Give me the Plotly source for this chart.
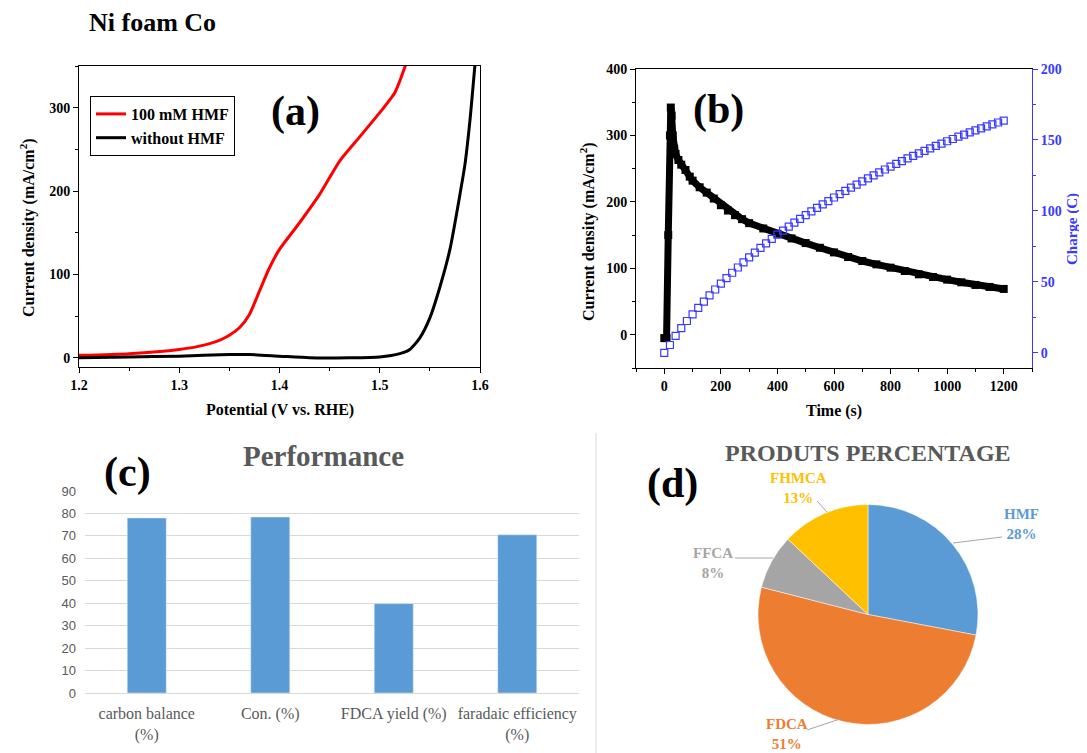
import plotly.graph_objects as go

W, H = 1087, 753
OFF = 8  # page body margin of the browser
FW, FH = W - OFF, H - OFF
SERIF = "Liberation Serif"
SANS = "Liberation Sans"

# ---------------- data ----------------
# (a) LSV curves
pot_hmf = [1.20, 1.25, 1.30, 1.32, 1.34, 1.35, 1.36, 1.37, 1.38, 1.39, 1.40, 1.42, 1.44, 1.46, 1.48, 1.50, 1.515, 1.52, 1.526]
j_hmf = [3, 5, 10, 14, 21, 27, 36, 52, 80, 108, 130, 162, 196, 236, 265, 294, 318, 332, 352]
pot_blank = [1.20, 1.25, 1.30, 1.35, 1.37, 1.40, 1.43, 1.47, 1.50, 1.52, 1.53, 1.54, 1.55, 1.56, 1.57, 1.58, 1.585, 1.59, 1.595]
j_blank = [0, 1, 2, 4, 4, 2, 0, 0, 1, 5, 10, 24, 48, 85, 130, 196, 232, 285, 352]

# (b) chronoamperometry
t_cur = [0, 8, 14, 20, 23, 26, 30, 35, 40, 50, 60, 75, 90, 100, 125, 150, 175, 200, 225, 250, 275, 300,
         350, 400, 450, 500, 550, 600, 650, 700, 750, 800, 850, 900, 950, 1000, 1050, 1100, 1150, 1200]
cur = [-5, -5, 150, 300, 342, 330, 300, 280, 272, 263, 256, 248, 238, 232, 222, 214, 205, 195, 187, 180, 174, 168,
       160, 152, 145, 138, 131, 124, 117, 111, 106, 101, 96, 91, 87, 83, 79, 75, 72, 69]
t_charge = [0, 20, 40, 60, 80, 100, 120, 140, 160, 180, 200, 220, 240, 260, 280, 300, 320, 340, 360, 380,
            400, 420, 440, 460, 480, 500, 520, 540, 560, 580, 600, 620, 640, 660, 680, 700, 720, 740, 760, 780,
            800, 820, 840, 860, 880, 900, 920, 940, 960, 980, 1000, 1020, 1040, 1060, 1080, 1100, 1120, 1140,
            1160, 1180, 1200]
charge = [0, 5.6, 12.0, 17.5, 22.5, 27.2, 31.8, 36.2, 40.5, 44.7, 48.8, 52.7, 56.5, 60.2, 63.8, 67.3, 70.7,
          74.0, 77.2, 80.3, 83.3, 86.2, 89.0, 91.8, 94.5, 97.1, 99.7, 102.2, 104.6, 107.0, 109.5, 111.8, 114.1,
          116.4, 118.6, 120.8, 123.0, 125.1, 127.2, 129.2, 131.3, 133.2, 135.1, 137.0, 138.8, 140.6, 142.4,
          144.1, 145.8, 147.5, 149.1, 150.7, 152.3, 153.8, 155.3, 156.8, 158.2, 159.6, 161.0, 162.3, 163.6]

# (c) performance
perf_cats = ["carbon balance<br>(%)", "Con. (%)", "FDCA yield (%)", "faradaic efficiency<br>(%)"]
perf_vals = [78.0, 78.4, 39.8, 70.5]

# (d) product percentages
prod_labels = ["HMF", "FDCA", "FFCA", "FHMCA"]
prod_vals = [28, 51, 8, 13]
prod_colors = ["#5B9BD5", "#ED7D31", "#A5A5A5", "#FFC000"]

# ---------------- helpers (reference pixel -> paper fraction) ----------------
def px(x):
    return (x - OFF) / FW

def py(y):
    return 1 - (y - OFF) / FH

BLUE = "#3a3aff"

fig = go.Figure()

# (a)
fig.add_trace(go.Scatter(x=pot_hmf, y=j_hmf, mode="lines", name="100 mM HMF",
                         line=dict(color="#ff0000", width=3, shape="spline", smoothing=0.6),
                         xaxis="x", yaxis="y"))
fig.add_trace(go.Scatter(x=pot_blank, y=j_blank, mode="lines", name="without HMF",
                         line=dict(color="#000000", width=3, shape="spline", smoothing=0.6),
                         xaxis="x", yaxis="y"))

# (b)
fig.add_trace(go.Scatter(x=t_cur, y=cur, mode="lines+markers", showlegend=False,
                         line=dict(color="black", width=7),
                         marker=dict(symbol="square", size=8, color="black"),
                         xaxis="x2", yaxis="y2"))
fig.add_trace(go.Scatter(x=t_charge, y=charge, mode="markers", showlegend=False,
                         marker=dict(symbol="square-open", size=7, color=BLUE, line=dict(width=1.2)),
                         xaxis="x2", yaxis="y3"))

# (c)
fig.add_trace(go.Bar(x=perf_cats, y=perf_vals, marker_color="#5B9BD5", showlegend=False,
                     xaxis="x3", yaxis="y4"))

# (d)
fig.add_trace(go.Pie(labels=prod_labels, values=prod_vals, sort=False, direction="clockwise",
                     rotation=0, marker=dict(colors=prod_colors, line=dict(color="white", width=0.5)),
                     textinfo="none", hoverinfo="label+percent", showlegend=False,
                     domain=dict(x=[px(758), px(978)], y=[py(725), py(504)])))

tick_font = dict(family=SERIF, size=14, color="black", weight="bold")
ax_common = dict(showline=True, linecolor="black", linewidth=1, ticks="outside", ticklen=5,
                 tickcolor="black", showgrid=False, zeroline=False, tickfont=tick_font)

fig.update_layout(
    width=FW, height=FH, margin=dict(l=0, r=0, t=0, b=0, pad=0, autoexpand=False),
    paper_bgcolor="white", plot_bgcolor="white",
    showlegend=True,
    legend=dict(x=px(90), y=py(96), xanchor="left", yanchor="top",
                bordercolor="black", borderwidth=1, bgcolor="white",
                font=dict(family=SERIF, size=16, color="black", weight="bold"),
                tracegroupgap=0, itemwidth=30),
    xaxis=dict(domain=[px(79), px(480)], range=[1.2, 1.6], dtick=0.1, tick0=1.2, tickformat=".1f",
               anchor="y", mirror=True, minor=dict(ticks="outside", ticklen=3, dtick=0.05, tickcolor="black"),
               **ax_common),
    yaxis=dict(domain=[py(367), py(66)], range=[-11, 350], dtick=100, tick0=0, anchor="x", mirror=True,
               minor=dict(ticks="outside", ticklen=3, dtick=50, tickcolor="black"), **ax_common),
    xaxis2=dict(domain=[px(636), px(1032)], range=[-100, 1300], dtick=200, tick0=0, anchor="y2", mirror=True,
                minor=dict(ticks="outside", ticklen=3, dtick=100, tickcolor="black"), **ax_common),
    yaxis2=dict(domain=[py(368), py(69)], range=[-50, 400], dtick=100, tick0=0, anchor="x2",
                minor=dict(ticks="outside", ticklen=3, dtick=50, tickcolor="black"), **ax_common),
    yaxis3=dict(overlaying="y2", side="right", anchor="x2", range=[-10.6, 200], dtick=50, tick0=0,
                showline=True, linecolor=BLUE, ticks="outside", ticklen=5, tickcolor=BLUE,
                showgrid=False, zeroline=False,
                tickfont=dict(family=SERIF, size=14, color=BLUE, weight="bold"),
                minor=dict(ticks="outside", ticklen=3, dtick=25, tickcolor=BLUE)),
    xaxis3=dict(domain=[px(85), px(579)], anchor="y4", type="category", showline=True,
                linecolor="#D9D9D9", linewidth=1, ticks="", showgrid=False, zeroline=False,
                tickfont=dict(family=SERIF, size=16, color="#595959"), ticklabelstandoff=6),
    yaxis4=dict(domain=[py(693), py(491)], anchor="x3", range=[0, 90], dtick=10, tick0=0,
                showgrid=True, gridcolor="#D9D9D9", gridwidth=1, showline=False, zeroline=False,
                ticks="", tickfont=dict(family=SANS, size=13, color="#595959"), ticklabelstandoff=8),
    bargap=0.684,
)

ann = []
def text(x, y, s, size, color="black", weight="bold", family=SERIF, angle=0):
    ann.append(dict(x=px(x), y=py(y), xref="paper", yref="paper", text=s, showarrow=False,
                    xanchor="center", yanchor="middle", textangle=angle,
                    font=dict(family=family, size=size, color=color, weight=weight)))

text(152, 23, "Ni foam Co", 26)
# panel labels
text(295, 112, "(a)", 42)
text(718, 110, "(b)", 42)
text(127, 472, "(c)", 42)
text(672, 483, "(d)", 42)
# axis titles
text(27, 228, "Current density (mA/cm<sup>2</sup>)", 16, angle=-90)
text(280, 410, "Potential (V vs. RHE)", 16)
text(588, 232, "Current density (mA/cm<sup>2</sup>)", 16, angle=-90)
text(1072, 229, "Charge (C)", 15, color=BLUE, angle=-90)
text(834, 411, "Time (s)", 16)
# chart titles
text(323, 456, "Performance", 29, color="#595959")
text(868, 453, "PRODUTS PERCENTAGE", 24, color="#595959")

# pie labels with leader lines
label_pos = {"HMF": (1021, 524), "FDCA": (787, 734), "FFCA": (713, 563), "FHMCA": (798, 488)}
leader = {"HMF": [(953, 543), (1002, 537)],
          "FDCA": [(840, 719), (807, 730)],
          "FFCA": [(773, 558), (735, 558)],
          "FHMCA": [(827, 512), (817, 501)]}
shapes = []
for lab, val, col in zip(prod_labels, prod_vals, prod_colors):
    lx, ly = label_pos[lab]
    text(lx, ly, f"{lab}<br>{val}%", 15, color=col)
    (x0, y0), (x1, y1) = leader[lab]
    shapes.append(dict(type="line", xref="paper", yref="paper", x0=px(x0), y0=py(y0), x1=px(x1), y1=py(y1),
                       line=dict(color="#A6A6A6", width=1)))

# divider line between (c) and (d)
shapes.append(dict(type="line", xref="paper", yref="paper", x0=px(596), x1=px(596), y0=py(433), y1=0,
                   line=dict(color="#D9D9D9", width=1)))

fig.update_layout(annotations=ann, shapes=shapes)
fig.write_html("out.html")
